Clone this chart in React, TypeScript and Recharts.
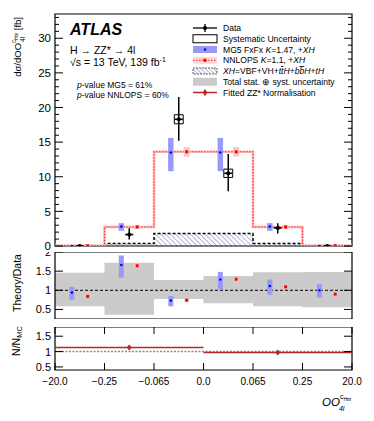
import React from "react";
import {
  ComposedChart,
  XAxis,
  YAxis,
  Scatter,
  Line,
  Area,
  ErrorBar,
  ReferenceLine,
  ReferenceArea,
} from "recharts";

// bin edges of OO_4l (6 bins, drawn with equal widths)
const binEdgeLabels = ["\u221220.0", "\u22120.25", "\u22120.065", "0.0", "0.065", "0.25", "20.0"];

// main panel, dσ/dOO [fb]
const dataValues = [0.0, 1.65, 18.3, 10.5, 2.6, 0.0];
const dataErrDown = [0.05, 0.7, 3.1, 2.6, 0.8, 0.05];
const dataErrUp = [0.1, 0.9, 3.2, 2.8, 0.7, 0.1];
const systErr = [0, 0, 0.65, 0.6, 0, 0];
const mg5Values = [0.0, 2.8, 13.5, 13.5, 2.8, 0.0];
const mg5Low = [0.0, 2.2, 10.8, 10.8, 2.2, 0.0];
const mg5High = [0.05, 3.3, 15.6, 15.6, 3.3, 0.05];
const nnlopsValues = [0.05, 2.75, 13.6, 13.6, 2.75, 0.05];
const nnlopsErr = [0.05, 0.3, 0.7, 0.7, 0.3, 0.05];
const xhValues = [0.0, 0.35, 1.8, 1.8, 0.35, 0.0];

// ratio panel, theory / data
const totalUncLow = [0.58, 0.36, 0.77, 0.66, 0.58, 0.56];
const totalUncHigh = [1.46, 1.72, 1.27, 1.37, 1.47, 1.48];
const mg5Ratio = [0.94, 1.66, 0.73, 1.28, 1.11, 1.0];
const mg5RatioLow = [0.75, 1.33, 0.58, 1.03, 0.88, 0.81];
const mg5RatioHigh = [1.09, 1.91, 0.85, 1.48, 1.28, 1.16];
const nnlopsRatio = [0.84, 1.64, 0.74, 1.29, 1.09, 0.9];
const nnlopsRatioErr = [0.04, 0.04, 0.03, 0.04, 0.04, 0.04];

// fitted ZZ* normalisation, two wide bins
const normEdges = [0, 3, 6];
const normFactor = [1.13, 0.97];
const normFactorErr = [0.06, 0.05];

const FONT = '"Liberation Sans", Arial, Helvetica, sans-serif';
const CHART_W = 374;
const AXIS_W = 55;
const RIGHT_PAD = 22;
const PLOT_W = CHART_W - AXIS_W - RIGHT_PAD;
const MAIN_TOP = 14;
const MAIN_H = 232;
const MAIN_BOTTOM_PAD = 5;
const RATIO_TOP = 252;
const RATIO_H = 67;
const NORM_TOP = 327;
const NORM_H = 43;
const SHIFT = 0.16;
const MAIN_MAX = 33.5;
const RATIO_DOMAIN: [number, number] = [0.25, 2.0];
const NORM_DOMAIN: [number, number] = [0.4, 1.8];

const BLUE_BAND = "#9999f7";
const PINK_BAND = "#ffc6c6";
const DARK_RED = "#b8262a";

const bins = dataValues.map((_, i) => i);
const nBins = bins.length;

const stepData = (vals: number[]) => [
  ...vals.map((y, i) => ({ x: i, y })),
  { x: vals.length, y: vals[vals.length - 1] },
];

const dataPoints = bins.map((i) => ({
  x: i + 0.5,
  y: dataValues[i],
  err: [dataErrDown[i], dataErrUp[i]],
}));
const mg5Points = bins.map((i) => ({
  x: i + 0.5 - SHIFT,
  y: mg5Values[i],
  err: [mg5Values[i] - mg5Low[i], mg5High[i] - mg5Values[i]],
}));
const nnlopsPoints = bins.map((i) => ({
  x: i + 0.5 + SHIFT,
  y: nnlopsValues[i],
  err: nnlopsErr[i],
}));
const nnlopsStep = stepData(nnlopsValues);
const xhStep = stepData(xhValues);

const bandData = [
  ...bins.map((i) => ({ x: i, band: [totalUncLow[i], totalUncHigh[i]] })),
  { x: nBins, band: [totalUncLow[nBins - 1], totalUncHigh[nBins - 1]] },
];
const mg5RatioPoints = bins.map((i) => ({
  x: i + 0.5 - SHIFT,
  y: mg5Ratio[i],
  err: [mg5Ratio[i] - mg5RatioLow[i], mg5RatioHigh[i] - mg5Ratio[i]],
}));
const nnlopsRatioPoints = bins.map((i) => ({
  x: i + 0.5 + SHIFT,
  y: nnlopsRatio[i],
  err: nnlopsRatioErr[i],
}));

const normLine = normFactor.flatMap((v, i) => [
  { x: normEdges[i], y: v },
  { x: normEdges[i + 1], y: v },
  { x: normEdges[i + 1], y: null as number | null },
]);
const normPoints = normFactor.map((v, i) => ({
  x: (normEdges[i] + normEdges[i + 1]) / 2,
  y: v,
  err: normFactorErr[i],
}));

const xTicks = binEdgeLabels.map((_, i) => i);
const mainYTicks = Array.from({ length: 34 }, (_, i) => i);

const yTick =
  (opts: { major: (v: number) => boolean; label: (v: number) => string | null; fontSize: number }) =>
  (p: any) => {
    const v = p.payload.value;
    const len = opts.major(v) ? 8 : 4;
    const lab = opts.label(v);
    return (
      <g>
        <line x1={p.x} x2={p.x + len} y1={p.y} y2={p.y} stroke="#000" />
        <line x1={p.x + PLOT_W - len} x2={p.x + PLOT_W} y1={p.y} y2={p.y} stroke="#000" />
        {lab !== null && (
          <text x={p.x - 4} y={p.y} dy="0.36em" textAnchor="end" fontSize={opts.fontSize} fontFamily={FONT} fill="#000">
            {lab}
          </text>
        )}
      </g>
    );
  };

const xTick = (plotH: number, showLabel: boolean) => (p: any) => (
  <g>
    <line x1={p.x} x2={p.x} y1={p.y} y2={p.y - 7} stroke="#000" />
    <line x1={p.x} x2={p.x} y1={p.y - plotH} y2={p.y - plotH + 7} stroke="#000" />
    {showLabel && (
      <text x={p.x} y={p.y + 15} textAnchor="middle" fontSize={10} fontFamily={FONT} fill="#000">
        {binEdgeLabels[p.payload.value]}
      </text>
    )}
  </g>
);

const blueDot = (p: any) => <circle cx={p.cx} cy={p.cy} r={1.3} fill="#0000ff" />;
const redSquare = (p: any) => <rect x={p.cx - 1.5} y={p.cy - 1.5} width={3} height={3} fill="#ff0000" />;
const dataMarker = (p: any) => (
  <g>
    <line x1={p.cx - 4} x2={p.cx + 4} y1={p.cy} y2={p.cy} stroke="#000" strokeWidth={1.6} />
    <circle cx={p.cx} cy={p.cy} r={2.1} fill="#000" />
  </g>
);
const redDiamond = (p: any) => (
  <path d={`M${p.cx},${p.cy - 3}L${p.cx + 2.5},${p.cy}L${p.cx},${p.cy + 3}L${p.cx - 2.5},${p.cy}Z`} fill={DARK_RED} />
);

const frame = (y1: number, y2: number) => (
  <ReferenceArea x1={0} x2={nBins} y1={y1} y2={y2} fill="none" stroke="#000" strokeWidth={1.2} ifOverflow="visible" />
);

const MainPanel = () => (
  <ComposedChart
    width={CHART_W}
    height={MAIN_TOP + MAIN_H + MAIN_BOTTOM_PAD}
    margin={{ top: MAIN_TOP, right: RIGHT_PAD, bottom: MAIN_BOTTOM_PAD, left: 0 }}
  >
    <defs>
      <pattern id="hatch" patternUnits="userSpaceOnUse" width="3.5" height="3.5" patternTransform="rotate(-45)">
        <line x1="0" y1="0" x2="0" y2="3.5" stroke="#5c5cb0" strokeWidth="0.9" />
      </pattern>
    </defs>
    <XAxis dataKey="x" type="number" domain={[0, nBins]} ticks={xTicks} interval={0} height={0}
      axisLine={false} tickLine={false} tickSize={0} tickMargin={0} tick={xTick(MAIN_H, false)} allowDataOverflow />
    <YAxis type="number" domain={[0, MAIN_MAX]} ticks={mainYTicks} interval={0} width={AXIS_W}
      axisLine={false} tickLine={false} tickSize={0} tickMargin={0} allowDataOverflow
      tick={yTick({ major: (v) => v % 5 === 0, label: (v) => (v % 5 === 0 ? String(v) : null), fontSize: 11.5 })} />
    <Area data={xhStep} dataKey="y" type="stepAfter" fill="url(#hatch)" fillOpacity={1}
      stroke="#000" strokeWidth={1.5} strokeDasharray="3 2" isAnimationActive={false} />
    <Line data={nnlopsStep} dataKey="y" type="stepAfter" stroke="#ffbcbc" strokeWidth={2.6}
      dot={false} activeDot={false} isAnimationActive={false} />
    <Line data={nnlopsStep} dataKey="y" type="stepAfter" stroke="#f22" strokeWidth={1.1} strokeDasharray="1.5 1.5"
      dot={false} activeDot={false} isAnimationActive={false} />
    <Scatter data={mg5Points} dataKey="y" shape={blueDot} isAnimationActive={false}>
      <ErrorBar dataKey="err" direction="y" width={0} stroke={BLUE_BAND} strokeWidth={5.5} />
    </Scatter>
    <Scatter data={nnlopsPoints} dataKey="y" shape={redSquare} isAnimationActive={false}>
      <ErrorBar dataKey="err" direction="y" width={0} stroke={PINK_BAND} strokeWidth={6} />
    </Scatter>
    {bins
      .filter((i) => systErr[i] > 0)
      .map((i) => (
        <ReferenceArea key={i} x1={i + 0.41} x2={i + 0.59} y1={dataValues[i] - systErr[i]} y2={dataValues[i] + systErr[i]}
          fill="none" stroke="#000" strokeWidth={1} ifOverflow="visible" />
      ))}
    <Scatter data={dataPoints} dataKey="y" shape={dataMarker} isAnimationActive={false}>
      <ErrorBar dataKey="err" direction="y" width={0} stroke="#000" strokeWidth={1.5} />
    </Scatter>
    {frame(0, MAIN_MAX)}
  </ComposedChart>
);

const RatioPanel = () => (
  <ComposedChart width={CHART_W} height={RATIO_H} margin={{ top: 0, right: RIGHT_PAD, bottom: 0, left: 0 }}>
    <XAxis dataKey="x" type="number" domain={[0, nBins]} ticks={xTicks} interval={0} height={0}
      axisLine={false} tickLine={false} tickSize={0} tickMargin={0} tick={xTick(RATIO_H, false)} allowDataOverflow />
    <YAxis type="number" domain={RATIO_DOMAIN} ticks={[0.5, 1, 1.5, 2]} interval={0} width={AXIS_W}
      axisLine={false} tickLine={false} tickSize={0} tickMargin={0} allowDataOverflow
      tick={yTick({ major: () => true, label: (v) => String(v), fontSize: 11 })} />
    <Area data={bandData} dataKey="band" type="stepAfter" fill="#cbcbcb" fillOpacity={1} stroke="none" isAnimationActive={false} />
    <ReferenceLine y={1} stroke="#000" strokeDasharray="3 2" strokeWidth={1} />
    <Scatter data={mg5RatioPoints} dataKey="y" shape={blueDot} isAnimationActive={false}>
      <ErrorBar dataKey="err" direction="y" width={0} stroke={BLUE_BAND} strokeWidth={5} />
    </Scatter>
    <Scatter data={nnlopsRatioPoints} dataKey="y" shape={redSquare} isAnimationActive={false}>
      <ErrorBar dataKey="err" direction="y" width={0} stroke={PINK_BAND} strokeWidth={5} />
    </Scatter>
    {frame(RATIO_DOMAIN[0], RATIO_DOMAIN[1])}
  </ComposedChart>
);

const NormPanel = () => (
  <ComposedChart width={CHART_W} height={NORM_H + 20} margin={{ top: 0, right: RIGHT_PAD, bottom: 0, left: 0 }}>
    <XAxis dataKey="x" type="number" domain={[0, nBins]} ticks={xTicks} interval={0} height={20}
      axisLine={false} tickLine={false} tickSize={0} tickMargin={0} tick={xTick(NORM_H, true)} allowDataOverflow />
    <YAxis type="number" domain={NORM_DOMAIN} ticks={[0.5, 1, 1.5]} interval={0} width={AXIS_W}
      axisLine={false} tickLine={false} tickSize={0} tickMargin={0} allowDataOverflow
      tick={yTick({ major: () => true, label: (v) => String(v), fontSize: 11 })} />
    <ReferenceLine y={1} stroke="#8a8a8a" strokeDasharray="2 1.5" strokeWidth={1.5} />
    <Line data={normLine} dataKey="y" type="linear" stroke={DARK_RED} strokeWidth={1.5} connectNulls={false}
      dot={false} activeDot={false} isAnimationActive={false} />
    <Scatter data={normPoints} dataKey="y" shape={redDiamond} isAnimationActive={false}>
      <ErrorBar dataKey="err" direction="y" width={0} stroke={DARK_RED} strokeWidth={1.5} />
    </Scatter>
    {frame(NORM_DOMAIN[0], NORM_DOMAIN[1])}
  </ComposedChart>
);

const legendRows = [
  "Data",
  "Systematic Uncertainty",
  "MG5",
  "NNLOPS",
  "XH",
  "Total stat. \u2295 syst. uncertainty",
  "Fitted ZZ* Normalisation",
];
const LEG_X = 193;
const LEG_Y0 = 28;
const LEG_DY = 10.75;

const Overlay = () => {
  const ly = (i: number) => LEG_Y0 + i * LEG_DY;
  const cx = LEG_X + 12;
  return (
    <svg width={374} height={421} style={{ position: "absolute", left: 0, top: 0, pointerEvents: "none" }} fontFamily={FONT}>
      <defs>
        <pattern id="hatchL" patternUnits="userSpaceOnUse" width="3" height="3" patternTransform="rotate(-45)">
          <line x1="0" y1="0" x2="0" y2="3" stroke="#5c5cb0" strokeWidth="0.9" />
        </pattern>
      </defs>
      <text x={70} y={35} fontSize={16} fontWeight="bold" fontStyle="italic">ATLAS</text>
      <text x={70} y={53.5} fontSize={10.5}>H {"\u2192"} ZZ* {"\u2192"} 4l</text>
      <text x={70} y={65.5} fontSize={10.5}>
        {"\u221A"}s = 13 TeV, 139 fb<tspan dy={-4} fontSize={7}>-1</tspan>
      </text>
      <text x={77} y={87.5} fontSize={8.5}>
        <tspan fontStyle="italic">p</tspan>-value MG5 = 61%
      </text>
      <text x={77} y={97.5} fontSize={8.5}>
        <tspan fontStyle="italic">p</tspan>-value NNLOPS = 60%
      </text>

      {/* legend symbols */}
      <line x1={LEG_X} x2={LEG_X + 24} y1={ly(0)} y2={ly(0)} stroke="#000" strokeWidth={1.3} />
      <line x1={cx} x2={cx} y1={ly(0) - 4} y2={ly(0) + 4} stroke="#000" strokeWidth={1.3} />
      <circle cx={cx} cy={ly(0)} r={2} fill="#000" />
      <rect x={LEG_X} y={ly(1) - 4} width={24} height={8} fill="none" stroke="#000" strokeWidth={1} />
      <rect x={LEG_X} y={ly(2) - 3.5} width={24} height={7} fill={BLUE_BAND} />
      <circle cx={cx} cy={ly(2)} r={1.2} fill="#0000ff" />
      <rect x={LEG_X} y={ly(3) - 3.5} width={24} height={7} fill="#ffd6d6" />
      <line x1={LEG_X} x2={LEG_X + 24} y1={ly(3)} y2={ly(3)} stroke="#f22" strokeDasharray="1.5 1.5" />
      <rect x={cx - 1.5} y={ly(3) - 1.5} width={3} height={3} fill="#ff0000" />
      <rect x={LEG_X} y={ly(4) - 3} width={24} height={6} fill="url(#hatchL)" stroke="#000" strokeWidth={0.6} strokeDasharray="2 1" />
      <rect x={LEG_X} y={ly(5) - 4} width={24} height={8} fill="#cbcbcb" />
      <line x1={LEG_X} x2={LEG_X + 24} y1={ly(6)} y2={ly(6)} stroke={DARK_RED} strokeWidth={1.5} />
      <line x1={cx} x2={cx} y1={ly(6) - 3} y2={ly(6) + 3} stroke={DARK_RED} strokeWidth={1.3} />
      <path d={`M${cx},${ly(6) - 3}L${cx + 2.5},${ly(6)}L${cx},${ly(6) + 3}L${cx - 2.5},${ly(6)}Z`} fill={DARK_RED} />

      {/* legend texts */}
      <g fontSize={8.6}>
        <text x={223} y={ly(0)} dy="0.35em">{legendRows[0]}</text>
        <text x={223} y={ly(1)} dy="0.35em">{legendRows[1]}</text>
        <text x={223} y={ly(2)} dy="0.35em">
          MG5 FxFx <tspan fontStyle="italic">K</tspan>=1.47, +<tspan fontStyle="italic">XH</tspan>
        </text>
        <text x={223} y={ly(3)} dy="0.35em">
          NNLOPS <tspan fontStyle="italic">K</tspan>=1.1, +<tspan fontStyle="italic">XH</tspan>
        </text>
        <text x={223} y={ly(4)} dy="0.35em">
          <tspan fontStyle="italic">XH</tspan>=VBF+VH+<tspan fontStyle="italic">t</tspan>
          <tspan fontStyle="italic" textDecoration="overline">t</tspan>
          <tspan fontStyle="italic">H</tspan>+<tspan fontStyle="italic">b</tspan>
          <tspan fontStyle="italic" textDecoration="overline">b</tspan>
          <tspan fontStyle="italic">H</tspan>+<tspan fontStyle="italic">tH</tspan>
        </text>
        <text x={223} y={ly(5)} dy="0.35em">{legendRows[5]}</text>
        <text x={223} y={ly(6)} dy="0.35em">{legendRows[6]}</text>
      </g>

      {/* axis titles */}
      <text transform="translate(20.5,17) rotate(-90)" textAnchor="end" fontSize={9.5}>
        d{"\u03C3"}/dOO
        <tspan dy={-4.5} fontSize={6.5}>c</tspan>
        <tspan dy={1.5} fontSize={4.5}>H{"\u03D6"}</tspan>
        <tspan dx={-9} dy={7} fontSize={6.5}>4l</tspan>
        <tspan dx={4} dy={-4}> [fb]</tspan>
      </text>
      <text transform="translate(20.5,283) rotate(-90)" textAnchor="middle" fontSize={10.5}>Theory/Data</text>
      <text transform="translate(19.5,341) rotate(-90)" textAnchor="middle" fontSize={10.5}>
        N/N<tspan dy={2.5} fontSize={7.5}>MC</tspan>
      </text>
      <text x={322} y={406} fontSize={11.5}>
        <tspan fontStyle="italic">OO</tspan>
        <tspan dy={-7} fontSize={7}>c</tspan>
        <tspan dy={1.5} fontSize={5}>H{"\u03D6"}</tspan>
        <tspan dx={-12} dy={10} fontSize={7} fontStyle="italic">4l</tspan>
      </text>
    </svg>
  );
};

export default function App() {
  return (
    <div style={{ position: "absolute", left: 0, top: 0, width: 374, height: 421, background: "#fff", fontFamily: FONT }}>
      <div style={{ position: "absolute", left: 0, top: 0 }}>
        <MainPanel />
      </div>
      <div style={{ position: "absolute", left: 0, top: RATIO_TOP }}>
        <RatioPanel />
      </div>
      <div style={{ position: "absolute", left: 0, top: NORM_TOP }}>
        <NormPanel />
      </div>
      <Overlay />
    </div>
  );
}
